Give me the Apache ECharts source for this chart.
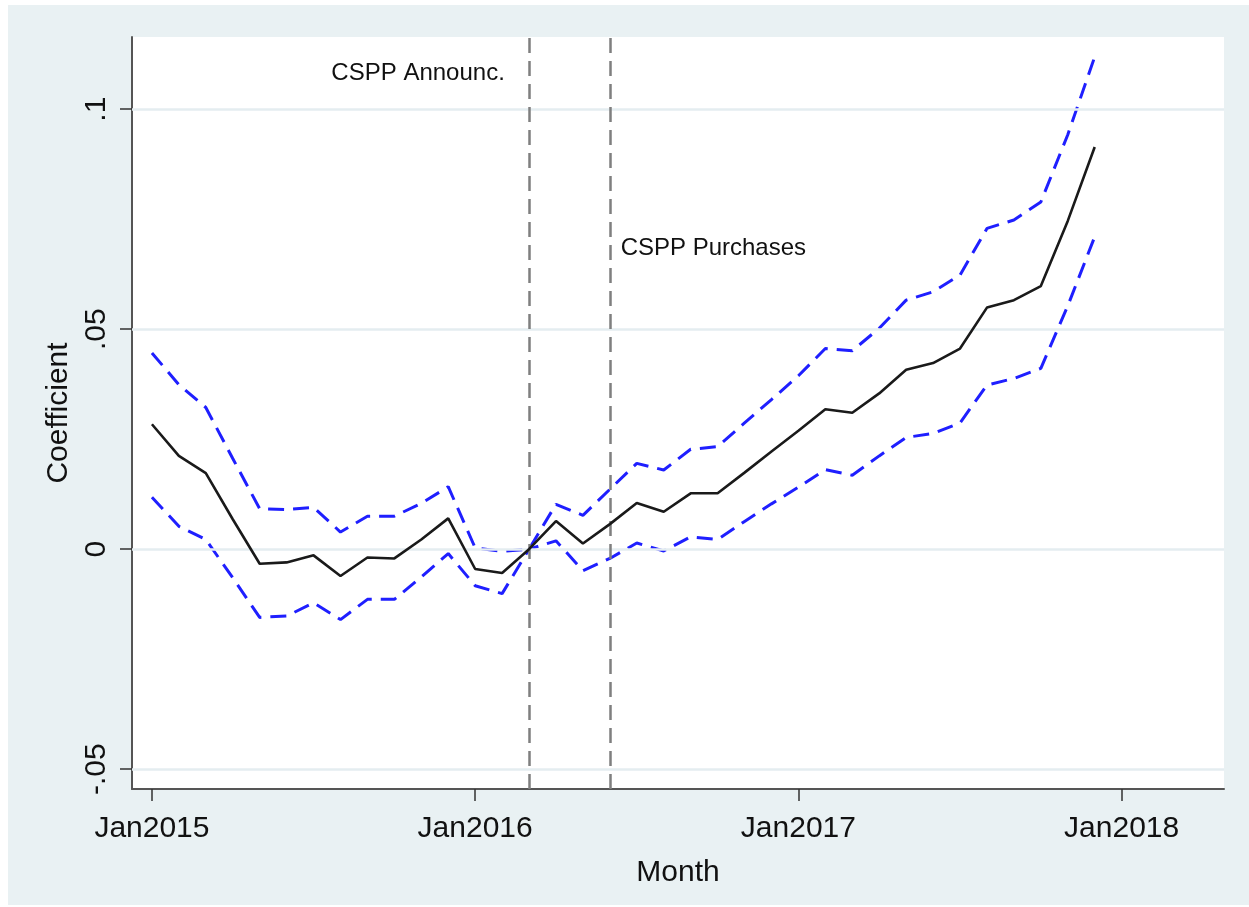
<!DOCTYPE html>
<html>
<head>
<meta charset="utf-8">
<script src="https://cdn.jsdelivr.net/npm/echarts@6/dist/echarts.min.js"></script>
<style>
html,body{margin:0;padding:0;background:#fff;}
#chart{width:1249px;height:907px;}
</style>
</head>
<body>
<div id="chart"></div>
<script>
// Month index 0 = Jan2015
const months = [0,1,2,3,4,5,6,7,8,9,10,11,12,13,14,15,16,17,18,19,20,21,22,23,24,25,26,27,28,29,30,31,32,33,34,35];
const coefficient = [0.0284,0.0212,0.0173,0.0068,-0.0033,-0.0030,-0.0014,-0.0061,-0.0019,-0.0021,0.0022,0.0070,-0.0045,-0.0054,0.0000,0.0064,0.0013,0.0057,0.0105,0.0085,0.0127,0.0127,0.0174,0.0222,0.0269,0.0318,0.0310,0.0354,0.0408,0.0423,0.0456,0.0549,0.0566,0.0598,0.0746,0.0914];
const upperCI = [0.0446,0.0374,0.0322,0.0206,0.0092,0.0090,0.0095,0.0039,0.0075,0.0075,0.0104,0.0142,0.0003,-0.0005,0.0000,0.0102,0.0077,0.0136,0.0195,0.0180,0.0227,0.0233,0.0287,0.0340,0.0394,0.0456,0.0451,0.0502,0.0566,0.0585,0.0623,0.0729,0.0748,0.0789,0.0942,0.1119];
const lowerCI = [0.0118,0.0052,0.0022,-0.0065,-0.0155,-0.0152,-0.0122,-0.0160,-0.0114,-0.0114,-0.0063,-0.0010,-0.0083,-0.0101,0.0000,0.0019,-0.0049,-0.0021,0.0014,-0.0004,0.0028,0.0022,0.0063,0.0103,0.0141,0.0181,0.0168,0.0212,0.0254,0.0263,0.0287,0.0373,0.0388,0.0411,0.0553,0.0710];
const xTickValues = [0,12,24,36];
const xTickLabels = ['Jan2015','Jan2016','Jan2017','Jan2018'];
const yTickValues = [-0.05,0,0.05,0.1];
const yTickLabels = ['-.05','0','.05','.1'];
const eventMonths = [14,17];
const eventLabels = ['CSPP Announc.','CSPP Purchases'];

const pair = arr => months.map((m,i)=>[m,arr[i]]);
const FONT = 'Liberation Sans, Arial, sans-serif';
const BG = '#e9f1f3';

const chart = echarts.init(document.getElementById('chart'), null, {renderer:'canvas'});
chart.setOption({
  animation:false,
  backgroundColor:'#ffffff',
  graphic:[{type:'rect', z:-10, shape:{x:8,y:5,width:1241,height:900}, style:{fill:BG}, silent:true}],
  grid:{left:132, top:37, right:25, bottom:118, show:true, backgroundColor:'#ffffff', borderWidth:0},
  xAxis:{
    type:'value', min:-0.74, max:39.8,
    name:'Month', nameLocation:'middle', nameGap:69,
    nameTextStyle:{fontFamily:FONT, fontSize:30, color:'#111'},
    axisLine:{show:true, onZero:false, lineStyle:{color:'#555', width:2}},
    axisTick:{show:true, length:12, lineStyle:{color:'#333', width:1.5}, customValues:xTickValues},
    axisLabel:{customValues:xTickValues, margin:25, fontFamily:FONT, fontSize:30, color:'#111',
      formatter:v=>{const i=xTickValues.indexOf(v); return i>=0?xTickLabels[i]:'';}},
    splitLine:{show:false}
  },
  yAxis:{
    type:'value', min:-0.0545, max:0.1164,
    name:'Coefficient', nameLocation:'middle', nameGap:53, nameRotate:90,
    nameTextStyle:{fontFamily:FONT, fontSize:30, color:'#111'},
    axisLine:{show:true, onZero:false, lineStyle:{color:'#555', width:2}},
    axisTick:{show:true, length:12, lineStyle:{color:'#333', width:1.5}, customValues:yTickValues},
    axisLabel:{customValues:yTickValues, rotate:90, margin:20, fontFamily:FONT, fontSize:30, color:'#111',
      formatter:v=>{const i=yTickValues.findIndex(t=>Math.abs(t-v)<1e-9); return i>=0?yTickLabels[i]:'';}},
    splitLine:{show:false}
  },
  series:[
    {
      type:'line', name:'grid', data:[], silent:true, z:1,
      markLine:{silent:true, symbol:'none', animation:false,
        lineStyle:{color:'#e4edf0', width:2.5, type:'solid'}, label:{show:false},
        data: yTickValues.map(v=>({yAxis:v}))}
    },
    {
      type:'line', name:'events', data:[], silent:true, z:2,
      markLine:{silent:true, symbol:'none', animation:false,
        lineStyle:{color:'#7f7f7f', width:2.5, type:[15,8]}, label:{show:false},
        data: eventMonths.map(v=>({xAxis:v}))}
    },
    {
      type:'scatter', name:'labels', silent:true, symbolSize:0, z:3,
      itemStyle:{opacity:1},
      data:[
        {value:[eventMonths[0]-0.9, 0.1082], label:{show:true, position:'left', distance:0, formatter:eventLabels[0], color:'#111', fontSize:24, fontFamily:FONT}},
        {value:[eventMonths[1]+0.4, 0.0684], label:{show:true, position:'right', distance:0, formatter:eventLabels[1], color:'#111', fontSize:24, fontFamily:FONT}}
      ],
      label:{fontFamily:FONT, fontSize:24, color:'#111'}
    },
    {type:'line', name:'Upper', data:pair(upperCI), showSymbol:false, z:4,
      lineStyle:{color:'#1f1fff', width:3, type:[16,9]}},
    {type:'line', name:'Lower', data:pair(lowerCI), showSymbol:false, z:4,
      lineStyle:{color:'#1f1fff', width:3, type:[16,9]}},
    {type:'line', name:'Coefficient', data:pair(coefficient), showSymbol:false, z:5,
      lineStyle:{color:'#1a1a1a', width:2.6}}
  ]
});
</script>
</body>
</html>
